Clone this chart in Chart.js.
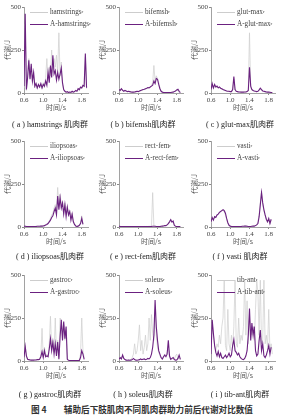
<!DOCTYPE html>
<html>
<head>
<meta charset="utf-8">
<script src="https://cdn.jsdelivr.net/npm/chart.js@4.4.1/dist/chart.umd.min.js"></script>
<style>
  body { margin: 0; width: 288px; height: 416px; background: #fff; position: relative; overflow: hidden; }
  .panel { position: absolute; }
  .legend { position: absolute; font-family: "Liberation Serif", serif; font-size: 7.2px; color: #444; }
  .legend div { height: 12px; line-height: 12px; display: flex; align-items: center; white-space: nowrap; }
  .legend i { display: inline-block; width: 18px; margin-right: 2px; }
  .legend sub { font-size: 5px; vertical-align: -2px; }
  .cap { position: absolute; transform: translate(-50%, -50%); white-space: nowrap; font-family: "Liberation Serif", "Noto Sans CJK SC", serif; font-size: 8px; color: #222; }
  .cap span { font-family: "Noto Sans CJK SC", sans-serif; }
  .fig { position: absolute; left: 142px; top: 409px; transform: translate(-50%, -50%); white-space: nowrap; font-family: "Noto Sans CJK SC", sans-serif; font-weight: bold; font-size: 8.6px; color: #333; }
</style>
</head>
<body>
<script>
// time axis (s)
const TIME = [
  0.6, 0.625, 0.65, 0.675, 0.7, 0.725, 0.75, 0.775, 0.8, 0.825, 0.85, 0.875, 0.9,
  0.925, 0.95, 0.975, 1.0, 1.025, 1.05, 1.075, 1.1, 1.125, 1.15, 1.175, 1.2, 1.225,
  1.25, 1.275, 1.3, 1.325, 1.35, 1.375, 1.4, 1.425, 1.45, 1.475, 1.5, 1.525, 1.55,
  1.575, 1.6, 1.625, 1.65, 1.675, 1.7, 1.725, 1.75, 1.775, 1.8, 1.825, 1.85, 1.875,
  1.9
];
const X_TICKS = [0.6, 1.0, 1.4, 1.8];
const Y_TICKS = [0, 250, 500];

const MUSCLES = ['hamstrings', 'bifemsh', 'glut-max', 'iliopsoas', 'rect-fem', 'vasti', 'gastroc', 'soleus', 'tib-ant'];
const LETTERS = ['a', 'b', 'c', 'd', 'e', 'f', 'g', 'h', 'i'];
const CAPTION_NAMES = ['hamstrings ', 'bifemsh', 'glut-max', 'iliopsoas', 'rect-fem', 'vasti ', 'gastroc', 'soleus', 'tib-ant'];

// metabolic energy (J), without assistance
const HAM_BASE = [
  30, 400, 15, 100, 200, 90, 150, 60, 100, 30, 60, 25, 45,
  30, 50, 25, 60, 30, 90, 200, 80, 150, 100, 250, 120, 200,
  150, 220, 120, 350, 100, 180, 50, 15, 8, 4, 6, 2, 5,
  3, 8, 4, 6, 10, 8, 20, 15, 30, 25, 40, 35, 210,
  25
];
const BIF_BASE = [
  25, 20, 20, 18, 12, 15, 10, 8, 8, 6, 5, 5, 4,
  5, 6, 8, 8, 10, 12, 15, 18, 20, 22, 25, 28, 30,
  35, 45, 60, 160, 70, 100, 85, 60, 30, 12, 6, 3, 2,
  2, 2, 2, 3, 3, 4, 6, 9, 14, 20, 15, 3, null,
  null
];
const GLUT_BASE = [
  15, 45, 25, 40, 30, 35, 28, 30, 25, 22, 18, 16, 14,
  11, 9, 9, 8, 8, 18, 80, 18, 9, 7, 6, 5, 5,
  5, 5, 5, 6, 7, 12, 350, 30, 18, 14, 10, 9, 7,
  9, 16, 25, 18, 11, 9, 7, 5, 4, 4, 3, 2, null,
  null
];
const ILIO_BASE = [
  6, 5, 4, 3, 3, 2, 2, 3, 3, 3, 4, 4, 5,
  5, 6, 6, 8, 10, 14, 18, 25, 35, 50, 70, 80, 110,
  130, 90, 230, 120, 190, 130, 150, 90, 140, 80, 120, 80, 95,
  50, 80, 35, 18, 6, 4, 6, 12, 25, 65, 18, null, null,
  null
];
const RECT_BASE = [
  6, 4, 3, 2, 2, 2, 2, 2, 2, 2, 2, 2, 2,
  2, 2, 2, 2, 2, 2, 2, 2, 3, 3, 3, 3, 4,
  4, 5, 200, 5, 4, 3, 3, 3, 3, 4, 5, 7, 9,
  9, 14, 22, 34, 45, 30, 30, 9, 4, 3, 2, 2, 2,
  null
];
const VASTI_BASE = [
  25, 50, 45, 55, 60, 68, 78, 82, 92, 98, 95, 90, 70,
  45, 20, 8, 4, 3, 2, 2, 2, 2, 3, 3, 3, 3,
  4, 4, 5, 5, 4, 3, 3, 3, 4, 5, 6, 9, 15,
  30, 70, 140, 210, 130, 95, 65, 40, 28, 45, 18, 40, null,
  null
];
const GAS_BASE = [
  15, 90, 25, 10, 8, 6, 5, 5, 5, 6, 7, 9, 10,
  15, 30, 190, 25, 80, 30, 40, 25, 100, 260, 70, 120, 50,
  250, 40, 120, 20, 250, 230, 130, 210, 120, 180, 8, 4, 3,
  2, 2, 2, 2, 2, 2, 3, 5, 40, 250, 60, 15, null,
  null
];
const SOL_BASE = [
  8, 18, 12, 30, 12, 6, 4, 4, 6, 5, 10, 20, 40,
  100, 40, 60, 120, 210, 60, 120, 40, 80, 150, 60, 100, 250,
  120, 270, 160, 120, 300, 150, 80, 50, 30, 15, 10, 20, 30,
  35, 50, 70, 20, 8, 12, 15, 10, 30, 40, 10, 25, 8,
  null
];
const TIB_BASE = [
  40, 220, 150, 90, 60, 100, 80, 150, 100, 200, 250, 470, 90,
  60, 300, 100, 60, 150, 80, 200, 470, 100, 80, 250, 100, 150,
  120, 200, 470, 150, 350, 100, 250, 180, 150, 200, 120, 300, 470,
  400, 150, 470, 100, 120, 470, 100, 150, 80, 300, 60, 100, 40,
  null
];

// metabolic energy (J), with assistance (A-)
const HAM_ASSIST = [
  40, 460, 20, 90, 190, 80, 170, 70, 120, 40, 55, 30, 50,
  35, 55, 30, 50, 40, 70, 45, 120, 60, 160, 90, 220, 110,
  130, 75, 120, 80, 110, 145, 60, 20, 10, 5, 8, 3, 6,
  4, 10, 5, 8, 15, 10, 25, 20, 35, 30, 45, 40, 230,
  30
];
const BIF_ASSIST = [
  20, 15, 25, 15, 10, 15, 12, 8, 10, 8, 6, 5, 5,
  6, 8, 10, 8, 12, 15, 18, 20, 22, 25, 28, 32, 30,
  35, 40, 45, 70, 55, 85, 80, 50, 25, 10, 5, 3, 2,
  2, 2, 2, 3, 3, 4, 5, 8, 12, 18, 22, 10, 2,
  null
];
const GLUT_ASSIST = [
  20, 55, 30, 50, 35, 40, 30, 35, 28, 25, 20, 18, 15,
  12, 10, 10, 8, 8, 20, 95, 20, 10, 8, 6, 6, 5,
  5, 5, 6, 6, 8, 15, 150, 40, 20, 15, 12, 10, 8,
  10, 18, 28, 20, 12, 10, 8, 6, 5, 5, 4, 3, 2,
  null
];
const ILIO_ASSIST = [
  5, 4, 3, 3, 2, 2, 2, 2, 3, 3, 3, 4, 4,
  4, 5, 5, 6, 8, 12, 15, 20, 30, 40, 55, 65, 90,
  110, 70, 180, 100, 170, 110, 140, 75, 130, 60, 115, 70, 90,
  40, 75, 30, 15, 5, 3, 5, 10, 20, 50, 15, null, null,
  null
];
const RECT_ASSIST = [
  5, 3, 2, 2, 2, 2, 2, 2, 2, 2, 2, 2, 2,
  2, 2, 2, 2, 2, 2, 2, 2, 3, 3, 3, 3, 3,
  3, 3, 4, 4, 4, 3, 3, 3, 3, 4, 5, 6, 8,
  8, 12, 20, 30, 42, 28, 35, 10, 4, 3, 2, 2, 2,
  null
];
const VASTI_ASSIST = [
  30, 55, 40, 60, 55, 70, 75, 85, 90, 95, 100, 95, 80,
  50, 25, 10, 5, 3, 2, 2, 2, 2, 3, 3, 3, 3,
  4, 4, 5, 5, 4, 3, 3, 3, 4, 5, 5, 8, 12,
  20, 60, 130, 200, 140, 100, 70, 45, 30, 50, 20, 45, null,
  null
];
const GAS_ASSIST = [
  20, 85, 30, 10, 8, 6, 5, 5, 5, 6, 6, 8, 8,
  10, 25, 55, 20, 60, 25, 30, 25, 70, 130, 60, 110, 40,
  100, 30, 110, 10, 140, 240, 120, 230, 130, 200, 10, 4, 3,
  2, 2, 2, 2, 2, 2, 2, 3, 20, 60, 40, 10, null,
  null
];
const SOL_ASSIST = [
  10, 20, 12, 35, 15, 8, 5, 4, 5, 4, 5, 8, 15,
  8, 5, 4, 6, 8, 12, 8, 10, 12, 8, 10, 15, 12,
  20, 40, 80, 150, 355, 200, 120, 60, 40, 20, 12, 25, 35,
  25, 40, 120, 30, 10, 15, 20, 8, 5, 6, 15, 35, 10,
  null
];
const TIB_ASSIST = [
  40, 240, 160, 90, 50, 30, 55, 25, 45, 20, 15, 25, 35,
  20, 30, 45, 25, 35, 90, 125, 60, 50, 35, 45, 25, 15,
  10, 8, 15, 30, 60, 150, 305, 120, 220, 150, 200, 60, 30,
  40, 120, 180, 60, 100, 30, 20, 35, 60, 90, 40, 80, null,
  null
];

const BASE_SERIES = [HAM_BASE, BIF_BASE, GLUT_BASE, ILIO_BASE, RECT_BASE, VASTI_BASE, GAS_BASE, SOL_BASE, TIB_BASE];
const ASSIST_SERIES = [HAM_ASSIST, BIF_ASSIST, GLUT_ASSIST, ILIO_ASSIST, RECT_ASSIST, VASTI_ASSIST, GAS_ASSIST, SOL_ASSIST, TIB_ASSIST];

const COL_LEFT = [0, 95, 187];
const ROW_TOP = [0, 134, 268];
const CAP_X = [50, 143, 240];
const CAP_Y = [123, 255, 393];
const GREY = '#cdcdcd';
const PURPLE = '#6b2180';
const AXIS = '#8a8a8a';

function points(vals) {
  return TIME.map((t, i) => ({ x: t, y: vals[i] }));
}

const tickFont = { family: 'Liberation Serif', size: 7 };
const titleFont = { family: 'Noto Sans CJK SC', size: 7 };

MUSCLES.forEach(function(name, p) {
  const col = p % 3, row = Math.floor(p / 3);
  const left = COL_LEFT[col], top = ROW_TOP[row];

  const box = document.createElement('div');
  box.className = 'panel';
  box.style.left = left + 'px';
  box.style.top = top + 'px';
  const cv = document.createElement('canvas');
  cv.width = 90; cv.height = 112;
  cv.style.width = '90px'; cv.style.height = '112px';
  box.appendChild(cv);
  document.body.appendChild(box);

  new Chart(cv, {
    type: 'line',
    data: {
      datasets: [
        { label: name, data: points(BASE_SERIES[p]), borderColor: GREY, borderWidth: 0.7, pointRadius: 0, order: 1 },
        { label: 'A-' + name, data: points(ASSIST_SERIES[p]), borderColor: PURPLE, borderWidth: 1.1, pointRadius: 0, order: 0 }
      ]
    },
    options: {
      responsive: false,
      animation: false,
      events: [],
      layout: { padding: { top: 7, right: 2, left: 0, bottom: 0 } },
      plugins: { legend: { display: false }, tooltip: { enabled: false } },
      scales: {
        x: {
          type: 'linear', min: 0.6, max: 1.93,
          afterBuildTicks: function(s) { s.ticks = X_TICKS.map(v => ({ value: v })); },
          afterFit: function(s) { s.height = 19; },
          ticks: { font: tickFont, color: '#444', padding: 1, maxRotation: 0, autoSkip: false, callback: v => v.toFixed(1) },
          grid: { drawOnChartArea: false, tickLength: 2, color: AXIS },
          border: { color: AXIS, width: 0.8 },
          title: { display: true, text: '时间/s', font: titleFont, color: '#555', padding: 0 }
        },
        y: {
          min: 0, max: 500,
          afterBuildTicks: function(s) { s.ticks = Y_TICKS.map(v => ({ value: v })); },
          afterFit: function(s) { s.width = 24; },
          ticks: { font: tickFont, color: '#444', padding: 1 },
          grid: { drawOnChartArea: false, tickLength: 2, color: AXIS },
          border: { color: AXIS, width: 0.8 },
          title: { display: true, text: '代谢/J', font: titleFont, color: '#555', padding: { top: 3, bottom: 0 } }
        }
      }
    }
  });

  // legend drawn as text over the plot, top right
  const lg = document.createElement('div');
  lg.className = 'legend';
  lg.style.left = (left + 30) + 'px';
  lg.style.top = (top + 6) + 'px';
  lg.innerHTML =
    '<div><i style="border-top:1px solid ' + GREY + '"></i>' + name + '<sub>r</sub></div>' +
    '<div><i style="border-top:1.3px solid ' + PURPLE + '"></i>A-' + name + '<sub>r</sub></div>';
  document.body.appendChild(lg);

  const cap = document.createElement('div');
  cap.className = 'cap';
  cap.style.left = CAP_X[col] + 'px';
  cap.style.top = CAP_Y[row] + 'px';
  cap.innerHTML = '( ' + LETTERS[p] + ' ) ' + CAPTION_NAMES[p] + '<span>肌肉群</span>';
  document.body.appendChild(cap);
});

const fig = document.createElement('div');
fig.className = 'fig';
fig.textContent = '图 4　　辅助后下肢肌肉不同肌肉群助力前后代谢对比数值';
document.body.appendChild(fig);
</script>
</body>
</html>
